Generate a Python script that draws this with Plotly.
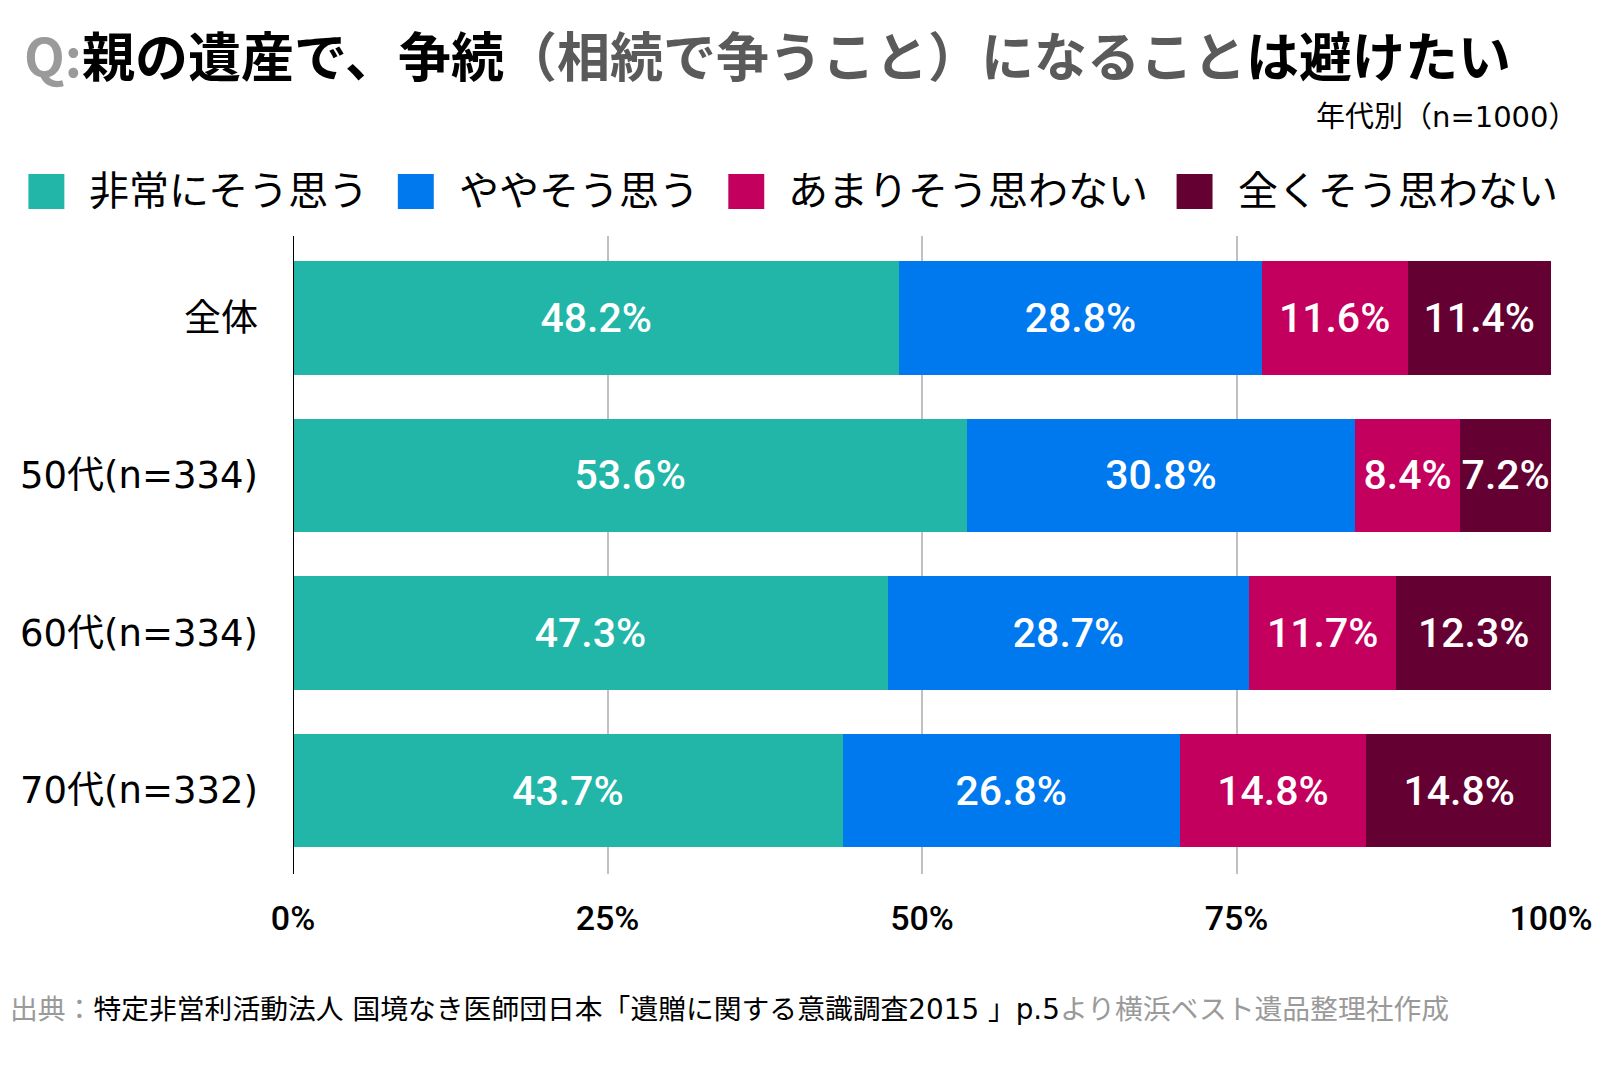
import plotly.graph_objects as go

categories = ["全体", "50代(n=334)", "60代(n=334)", "70代(n=332)"]
series_names = ["非常にそう思う", "ややそう思う", "あまりそう思わない", "全くそう思わない"]
very_much = [48.2, 53.6, 47.3, 43.7]
somewhat = [28.8, 30.8, 28.7, 26.8]
not_much = [11.6, 8.4, 11.7, 14.8]
not_at_all = [11.4, 7.2, 12.3, 14.8]
tick_vals = [0, 25, 50, 75, 100]
tick_text = ["0%", "25%", "50%", "75%", "100%"]
colors = ["#21B6A8", "#0079EE", "#C4005E", "#650032"]

OFF = 8  # default body margin of the page
W, H = 1622 - OFF, 1078 - OFF
ML, MR, MT, MB = 291 - OFF, 71, 236 - OFF, 204
PW, PH = W - ML - MR, H - MT - MB


def px(x):  # page x -> paper
    return (x - OFF - ML) / PW


def py(y):  # page y -> paper
    return (H - MB - (y - OFF)) / PH


NUM_FONT = "Roboto, sans-serif"
JP_FONT = "Noto Sans CJK JP, sans-serif"
MIX_FONT = "DejaVu Sans, Noto Sans CJK JP, sans-serif"

fig = go.Figure()
for name, vals, col in zip(series_names, [very_much, somewhat, not_much, not_at_all], colors):
    fig.add_trace(go.Bar(
        y=categories, x=vals, name=name, orientation="h",
        marker=dict(color=col, line=dict(width=0)),
        text=[f"{v:.1f}%" for v in vals],
        textposition="inside", insidetextanchor="middle", textangle=0,
        constraintext="none",
        textfont=dict(family=NUM_FONT, size=41, color="white", weight=500),
        showlegend=False,
    ))

annotations = []
annotations.append(dict(
    xref="paper", yref="paper", x=px(20), y=py(54), xanchor="left", yanchor="middle",
    text="<b><span style='color:#9a9a9a'>Q:</span>親の遺産で、争続"
         "<span style='color:#5a5a5a'>（相続で争うこと）になること</span>は避けたい</b>",
    showarrow=False, font=dict(family=JP_FONT, size=53, color="#000000"),
))
annotations.append(dict(
    xref="paper", yref="paper", x=px(1579), y=py(117), xanchor="right", yanchor="middle",
    text="年代別（n=1000）", showarrow=False,
    font=dict(family=MIX_FONT, size=29, color="#000000"),
))
leg_sq = [26, 396, 727, 1176]
leg_tx = [85, 455, 785, 1235]
shapes = []
for name, col, sx, tx in zip(series_names, colors, leg_sq, leg_tx):
    shapes.append(dict(type="rect", xref="paper", yref="paper",
                       x0=px(sx), x1=px(sx + 36), y0=py(209), y1=py(174),
                       fillcolor=col, line=dict(width=0)))
    annotations.append(dict(
        xref="paper", yref="paper", x=px(tx), y=py(188), xanchor="left", yanchor="middle",
        text=name, showarrow=False, font=dict(family=JP_FONT, size=40, color="#000000"),
    ))
annotations.append(dict(
    xref="paper", yref="paper", x=px(6), y=py(1009), xanchor="left", yanchor="middle",
    text="<span style='color:#9a9a9a'>出典：</span>特定非営利活動法人 国境なき医師団日本「遺贈に関する意識調査2015 」p.5"
         "<span style='color:#9a9a9a'>より横浜ベスト遺品整理社作成</span>",
    showarrow=False, font=dict(family=MIX_FONT, size=27.8, color="#000000"),
))

fig.update_layout(
    width=W, height=H,
    margin=dict(l=ML, r=MR, t=MT, b=MB, pad=0),
    barmode="stack", bargap=0.28,
    plot_bgcolor="white", paper_bgcolor="white",
    annotations=annotations, shapes=shapes,
    xaxis=dict(range=[0, 100], tickvals=tick_vals, ticktext=tick_text,
               showgrid=True, gridcolor="#C0C0C0", gridwidth=2,
               zeroline=False, showline=False, ticks="",
               ticklabelstandoff=21,
               tickfont=dict(family=NUM_FONT, size=34, color="#000000", weight=500)),
    yaxis=dict(autorange=False, range=[3.53, -0.52], type="category",
               showgrid=False, zeroline=False, showline=False, ticks="",
               ticklabelstandoff=34,
               tickfont=dict(family=MIX_FONT, size=37, color="#000000")),
)
fig.add_shape(type="line", xref="x", yref="paper", x0=0, x1=0, y0=0, y1=1,
              line=dict(color="#000000", width=2), layer="above")

fig.write_html("out.html")
